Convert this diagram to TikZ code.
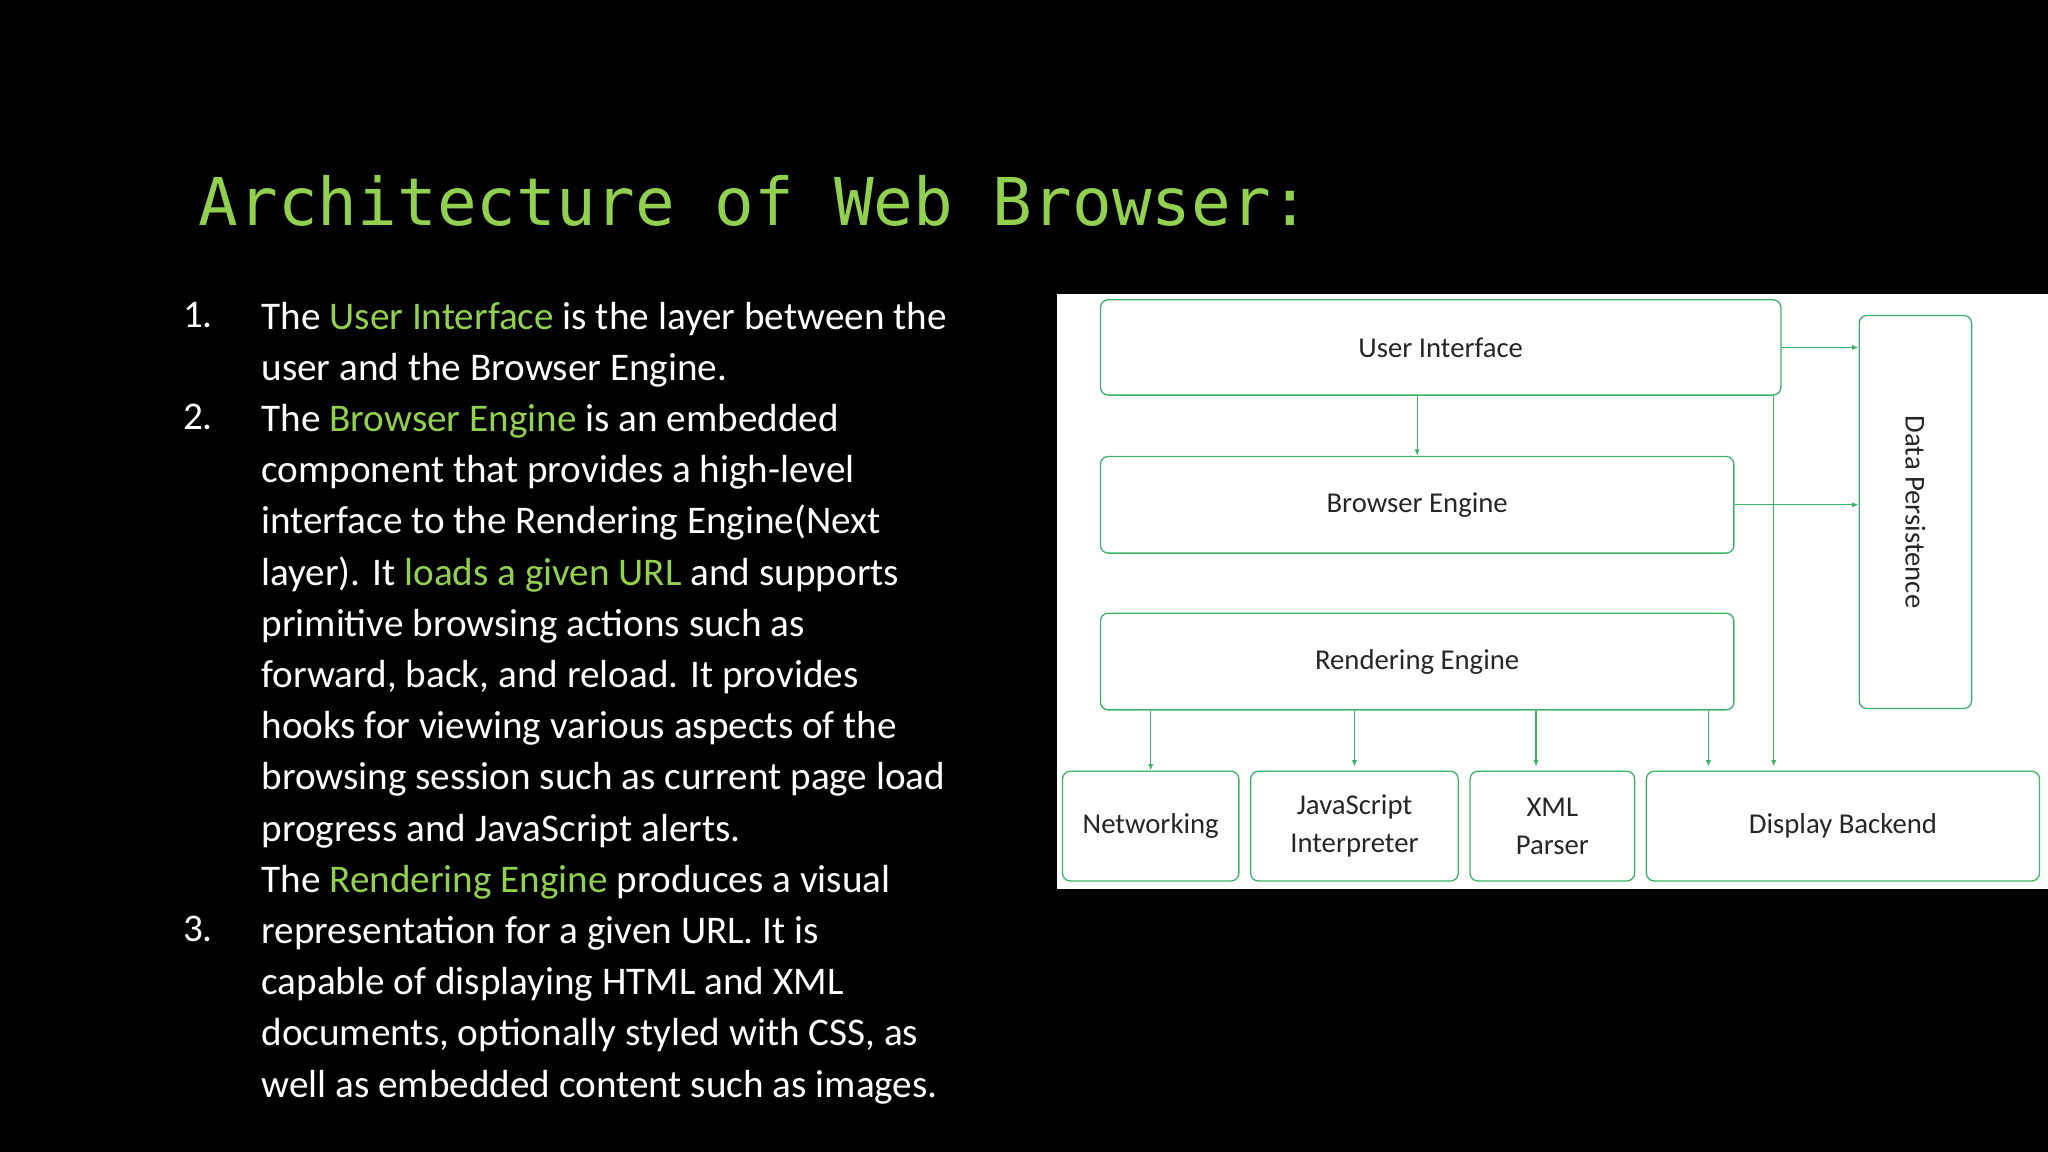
\documentclass[tikz,border=0pt]{standalone}
\usepackage{fontspec}
\setmainfont{Carlito}
\newfontfamily\monof{DejaVu Sans Mono}
\definecolor{hl}{HTML}{92D050}
\definecolor{bx}{HTML}{3DB36A}
\begin{document}
\begin{tikzpicture}[x=1pt,y=-1pt,
  box/.style={draw=bx,line width=1pt,rounded corners=6pt,fill=white,text=black!85,font=\fontsize{22}{29}\selectfont,align=center,inner sep=0pt},
  arr/.style={draw=bx,line width=1pt,-{Latex[length=5pt,width=4pt]}}]
\usetikzlibrary{arrows.meta}
\fill[black] (0,0) rectangle (1568,882);
\useasboundingbox (0,0) rectangle (1568,882);
\node[anchor=base west,text=hl,inner sep=0,font=\monof\fontsize{50.5}{50}\selectfont] (title) at (152,173) {Architecture of Web Browser:};
\node[anchor=north west,text=white,inner sep=0,align=left,font=\fontsize{30}{39.2}\selectfont] (nums) at (140,231) {1.\\ \\2.\\ \\ \\ \\ \\ \\ \\ \\ \\ \\3.};
\node[anchor=north west,text=white,inner sep=0,align=left,font=\fontsize{30}{39.2}\selectfont] (body) at (200,231) {The \textcolor{hl}{User Interface} is the layer between the\\user and the Browser Engine.\\The \textcolor{hl}{Browser Engine} is an embedded\\component that provides a high-level\\interface to the Rendering Engine(Next\\layer). It \textcolor{hl}{loads a given URL} and supports\\primitive browsing actions such as\\forward, back, and reload. It provides\\hooks for viewing various aspects of the\\browsing session such as current page load\\progress and JavaScript alerts.\\The \textcolor{hl}{Rendering Engine} produces a visual\\representation for a given URL. It is\\capable of displaying HTML and XML\\documents, optionally styled with CSS, as\\well as embedded content such as images.};
\fill[white] (809,225) rectangle (1568,681);
\node[box,minimum width=521pt,minimum height=73pt,anchor=north west] (ui) at (842,229) {User Interface};
\node[box,minimum width=485pt,minimum height=74pt,anchor=north west] (be) at (842,349) {Browser Engine};
\node[box,minimum width=485pt,minimum height=74pt,anchor=north west] (re) at (842,469) {Rendering Engine};
\node[box,minimum width=86pt,minimum height=301pt,anchor=north west] (dp) at (1423,241) {};
\node[rotate=-90,text=black!85,font=\fontsize{22}{29}\selectfont] (dpt) at (dp.center) {Data Persistence};
\node[box,minimum width=135pt,minimum height=84pt,anchor=north west] (net) at (813,590) {Networking};
\node[box,minimum width=159pt,minimum height=84pt,anchor=north west] (js) at (957,590) {JavaScript\\Interpreter};
\node[box,minimum width=126pt,minimum height=84pt,anchor=north west] (xml) at (1125,590) {XML\\Parser};
\node[box,minimum width=301pt,minimum height=84pt,anchor=north west] (db) at (1260,590) {Display Backend};
\draw[arr] (ui.south -| be.north) -- (be.north);
\draw[arr] (ui.east |- 0,266) -- (dp.west |- 0,266);
\draw[arr] (be.east) -- (dp.west |- be.east);
\draw[arr] (1358,302) -- (1358,587);
\draw[arr] (re.south -| net.north) -- (net.north);
\draw[arr] (re.south -| 1037,0) -- (1037,587);
\draw[arr] (re.south -| 1176,0) -- (1176,587);
\draw[arr] (re.south -| 1308,0) -- (1308,587);
\end{tikzpicture}
\end{document}
